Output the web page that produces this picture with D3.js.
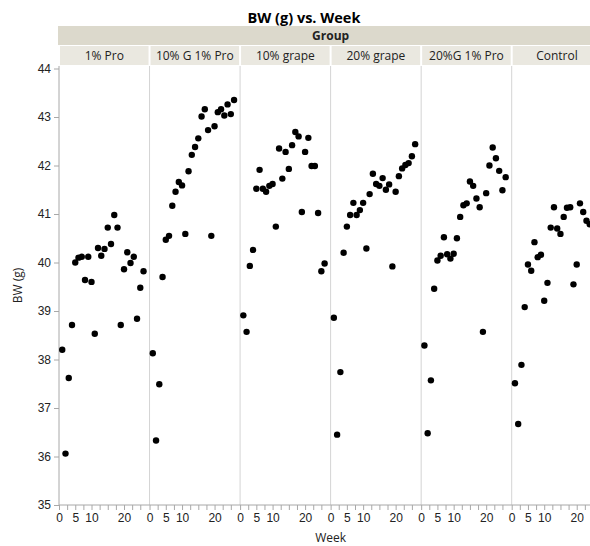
<!DOCTYPE html>
<html>
<head>
<meta charset="utf-8">
<script src="https://cdn.jsdelivr.net/npm/d3@7"></script>
<style>
  body { margin: 0; background: #fff; overflow: hidden; }
  svg { display: block; font-family: "Open Sans", "Noto Sans", sans-serif; }
</style>
</head>
<body>
<div id="chart"></div>
<script>
// groups shown as panels, left to right
const groups = ["1% Pro", "10% G 1% Pro", "10% grape", "20% grape", "20%G 1% Pro", "Control"];
const weeks = [1, 2, 3, 4, 5, 6, 7, 8, 9, 10, 11, 12, 13, 14, 15, 16, 17, 18, 19, 20, 21, 22, 23, 24, 25, 26];

// BW (g) per week
const bwPro1 = [38.20, 36.06, 37.62, 38.71, 40.00, 40.10, 40.12, 39.64, 40.12, 39.60, 38.53, 40.30, 40.14,
                40.28, 40.72, 40.38, 40.98, 40.72, 38.71, 39.86, 40.21, 39.99, 40.12, 38.84, 39.48, 39.82];
const bwG10Pro1 = [38.13, 36.33, 37.49, 39.70, 40.47, 40.55, 41.17, 41.46, 41.66, 41.59, 40.59, 41.88, 42.22,
                   42.38, 42.56, 43.01, 43.16, 42.73, 40.55, 42.81, 43.10, 43.16, 43.03, 43.26, 43.06, 43.35];
const bwGrape10 = [38.91, 38.57, 39.93, 40.26, 41.52, 41.91, 41.52, 41.46, 41.58, 41.62, 40.74, 42.35, 41.73,
                   42.28, 41.93, 42.42, 42.69, 42.60, 41.04, 42.28, 42.57, 41.99, 41.99, 41.02, 39.82, 39.98];
const bwGrape20 = [38.86, 36.45, 37.74, 40.20, 40.74, 40.98, 41.23, 40.98, 41.08, 41.23, 40.29, 41.41, 41.83,
                   41.62, 41.58, 41.74, 41.50, 41.61, 39.92, 41.46, 41.78, 41.94, 42.01, 42.05, 42.19, 42.44];
const bwG20Pro1 = [38.29, 36.48, 37.57, 39.46, 40.04, 40.14, 40.52, 40.17, 40.08, 40.18, 40.50, 40.94, 41.18,
                   41.22, 41.67, 41.58, 41.32, 41.14, 38.57, 41.43, 42.00, 42.37, 42.15, 41.89, 41.49, 41.76];
const bwControl = [37.51, 36.67, 37.89, 39.08, 39.96, 39.83, 40.42, 40.11, 40.16, 39.21, 39.58, 40.72, 41.14,
                   40.70, 40.59, 40.94, 41.13, 41.14, 39.55, 39.96, 41.22, 41.04, 40.86, 40.79];
const series = [bwPro1, bwG10Pro1, bwGrape10, bwGrape20, bwG20Pro1, bwControl];

const yTicks = [35, 36, 37, 38, 39, 40, 41, 42, 43, 44];
const xTicks = [0, 2.5, 5, 7.5, 10, 12.5, 15, 17.5, 20, 22.5, 25];
const xLabels = [0, 5, 10, 20];

const width = 590;
const height = 546;
const plotLeft = 59;
const plotTop = 66;
const plotBottom = 505;
const panelW = 90.54;
const plotRight = plotLeft + panelW * groups.length;

const svg = d3.select("#chart")
    .append("svg")
    .attr("width", width)
    .attr("height", height);

const y = d3.scaleLinear()
    .domain([35, 44])
    .range([plotBottom, 68.5]);

const panel = d3.scaleBand()
    .domain(groups)
    .range([plotLeft, plotRight])
    .padding(0);

const x = d3.scaleLinear()
    .domain([0, 27.85])
    .range([0, panelW]);

// title
svg.append("text")
    .attr("x", 304)
    .attr("y", 23)
    .attr("text-anchor", "middle")
    .style("font-size", "14.5px")
    .style("font-weight", "bold")
    .attr("fill", "#000")
    .text("BW (g) vs. Week");

// group header band
svg.append("rect")
    .attr("x", plotLeft - 1)
    .attr("y", 26)
    .attr("width", plotRight - plotLeft + 1)
    .attr("height", 19)
    .attr("fill", "#dcd9cc");

svg.append("text")
    .attr("x", (plotLeft + plotRight) / 2)
    .attr("y", 40)
    .attr("text-anchor", "middle")
    .style("font-size", "12px")
    .style("font-weight", "bold")
    .attr("fill", "#222")
    .text("Group");

const heads = svg.append("g");
heads.selectAll("rect")
    .data(groups)
    .join("rect")
    .attr("x", d => panel(d) + 1)
    .attr("y", 46)
    .attr("width", panelW - 2)
    .attr("height", 19)
    .attr("fill", "#eae8e0");

heads.selectAll("text")
    .data(groups)
    .join("text")
    .attr("x", d => panel(d) + panelW / 2)
    .attr("y", 60)
    .attr("text-anchor", "middle")
    .style("font-size", "12px")
    .attr("fill", "#222")
    .text(d => d);

// panel separators
svg.append("g")
    .selectAll("line")
    .data(groups.slice(1))
    .join("line")
    .attr("x1", d => panel(d))
    .attr("x2", d => panel(d))
    .attr("y1", plotTop)
    .attr("y2", plotBottom)
    .attr("stroke", "#d4d4d4");

// y axis
const yAxis = svg.append("g")
    .attr("transform", `translate(${plotLeft},0)`)
    .call(d3.axisLeft(y).tickValues(yTicks).tickSize(5).tickSizeOuter(0).tickPadding(3));
yAxis.select(".domain").attr("stroke", "#a8a8a8").attr("d", `M0,${plotTop}V${plotBottom}`);
yAxis.selectAll(".tick line").attr("stroke", "#a8a8a8");
yAxis.selectAll(".tick text").style("font-size", "12px").attr("fill", "#222");

svg.append("text")
    .attr("transform", `translate(22,${(plotTop + plotBottom) / 2}) rotate(-90)`)
    .attr("text-anchor", "middle")
    .style("font-size", "12px")
    .attr("fill", "#222")
    .text("BW (g)");

// one x axis per panel
groups.forEach(g => {
    const ax = svg.append("g")
        .attr("transform", `translate(${panel(g)},${plotBottom})`)
        .call(d3.axisBottom(x)
            .tickValues(xTicks)
            .tickSize(5)
            .tickSizeOuter(0)
            .tickPadding(3)
            .tickFormat(d => xLabels.includes(d) ? d : ""));
    ax.select(".domain").attr("stroke", "#a8a8a8").attr("d", `M0,0H${panelW}`);
    ax.selectAll(".tick line").attr("stroke", "#a8a8a8");
    ax.selectAll(".tick text").style("font-size", "12px").attr("fill", "#222");
});

svg.append("text")
    .attr("x", (plotLeft + plotRight) / 2)
    .attr("y", 542)
    .attr("text-anchor", "middle")
    .style("font-size", "12px")
    .attr("fill", "#222")
    .text("Week");

// points
groups.forEach((g, i) => {
    svg.append("g")
        .attr("transform", `translate(${panel(g)},0)`)
        .selectAll("circle")
        .data(series[i])
        .join("circle")
        .attr("cx", (d, j) => x(weeks[j]))
        .attr("cy", d => y(d))
        .attr("r", 3.2)
        .attr("fill", "#000");
});
</script>
</body>
</html>
